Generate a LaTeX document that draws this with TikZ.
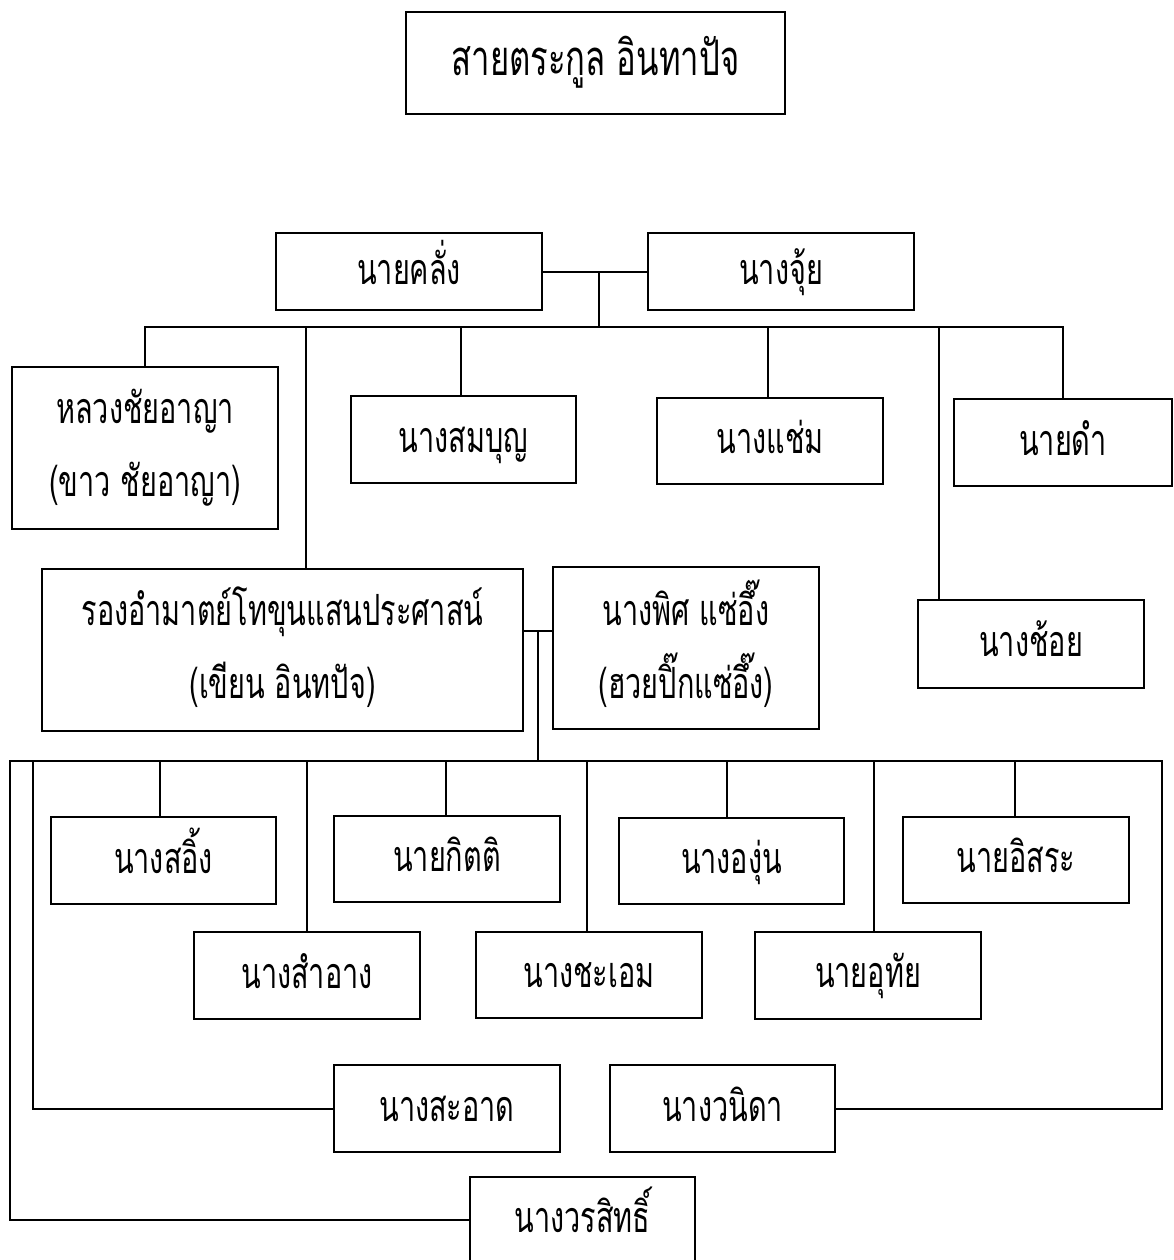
\documentclass[tikz,border=0pt]{standalone}
\usepackage{fontspec}
\newfontfamily\thai[Script=Thai,FakeStretch=0.67]{Loma}
\begin{document}
\begin{tikzpicture}[x=1pt,y=-1pt,
  boxa/.style={draw, line width=2pt, inner sep=0pt,
    font=\thai\fontsize{43}{73}\selectfont, text height=36pt, text depth=11pt},
  boxb/.style={draw, line width=2pt, inner sep=0pt, align=center,
    font=\thai\fontsize{43}{73}\selectfont},
  titlebox/.style={boxa, font=\thai\fontsize{49}{73}\selectfont, text height=38pt, text depth=12pt},
  ln/.style={line width=2pt}]
\useasboundingbox (0,0) rectangle (1173,1260);
\newcommand{\twolines}[2]{\rule{0pt}{41pt}#1\\#2\rule[-18pt]{0pt}{18pt}}

% nodes
\node[titlebox, minimum width=379pt, minimum height=102pt] (title) at (595.5,63) {สายตระกูล อินทาปัจ};
\node[boxa, minimum width=266pt, minimum height=77pt] (khlang) at (409,271.5) {นายคลั่ง};
\node[boxa, minimum width=266pt, minimum height=77pt] (chui) at (781,271.5) {นางจุ้ย};
\node[boxb, minimum width=266pt, minimum height=162pt] (luang) at (145,448) {\twolines{หลวงชัยอาญา}{(ขาว ชัยอาญา)}};
\node[boxa, minimum width=225pt, minimum height=87pt] (sombun) at (463.5,439.5) {นางสมบุญ};
\node[boxa, minimum width=226pt, minimum height=86pt] (chaem) at (770,441) {นางแช่ม};
\node[boxa, minimum width=218pt, minimum height=87pt] (dam) at (1063,442.5) {นายดำ};
\node[boxa, minimum width=226pt, minimum height=88pt] (choi) at (1031,644) {นางช้อย};
\node[boxb, minimum width=481pt, minimum height=162pt] (rong) at (282.5,650) {\twolines{รองอำมาตย์โทขุนแสนประศาสน์}{(เขียน อินทปัจ)}};
\node[boxb, minimum width=266pt, minimum height=162pt] (phit) at (686,648) {\twolines{นางพิศ แซ่อึ๊ง}{(ฮวยปิ๊กแซ่อึ๊ง)}};
\node[boxa, minimum width=225pt, minimum height=87pt] (soing) at (163.5,860.5) {นางสอิ้ง};
\node[boxa, minimum width=226pt, minimum height=86pt] (kitti) at (447,859) {นายกิตติ};
\node[boxa, minimum width=225pt, minimum height=86pt] (angun) at (731.5,861) {นางองุ่น};
\node[boxa, minimum width=226pt, minimum height=86pt] (itsara) at (1016,860) {นายอิสระ};
\node[boxa, minimum width=226pt, minimum height=87pt] (samang) at (307,975.5) {นางสำอาง};
\node[boxa, minimum width=226pt, minimum height=86pt] (chaoem) at (589,975) {นางชะเอม};
\node[boxa, minimum width=226pt, minimum height=87pt] (uthai) at (868,975) {นายอุทัย};
\node[boxa, minimum width=226pt, minimum height=87pt] (saat) at (447,1108.5) {นางสะอาด};
\node[boxa, minimum width=225pt, minimum height=87pt] (wanida) at (722.5,1108.5) {นางวนิดา};
\node[boxa, minimum width=225pt, minimum height=87pt] (worasit) at (582.5,1220) {นางวรสิทธิ์};

% first family
\coordinate (j1) at (khlang.east -| 599,0);
\coordinate (b1) at (599,327);
\draw[ln] (khlang.east) -- (chui.west);
\draw[ln] (j1) -- (b1);
\draw[ln] (luang.north) |- (b1) -| (dam.north);
\coordinate (d1) at (306,327);
\coordinate (d2) at (461,327);
\coordinate (d3) at (768,327);
\coordinate (d4) at (939,327);
\draw[ln] (d1) -- (d1 |- rong.north);
\draw[ln] (d2) -- (d2 |- sombun.north);
\draw[ln] (d3) -- (d3 |- chaem.north);
\draw[ln] (d4) -- (d4 |- choi.north);

% second family
\coordinate (c2l) at (rong.east |- 0,631);
\coordinate (c2r) at (phit.west |- 0,631);
\draw[ln] (c2l) -- (c2r);
\coordinate (j2) at (538,631);
\coordinate (b2) at (538,761);
\draw[ln] (j2) -- (b2);
\coordinate (bl) at (10,761);
\coordinate (br) at (1162,761);
\draw[ln] (worasit.west) -| (bl) -- (br) |- (wanida.east);
\coordinate (e0) at (33,761);
\draw[ln] (e0) |- (saat.west);
\coordinate (e1) at (160,761);
\coordinate (e2) at (307,761);
\coordinate (e3) at (446,761);
\coordinate (e4) at (587,761);
\coordinate (e5) at (727,761);
\coordinate (e6) at (874,761);
\coordinate (e7) at (1015,761);
\draw[ln] (e1) -- (e1 |- soing.north);
\draw[ln] (e2) -- (e2 |- samang.north);
\draw[ln] (e3) -- (e3 |- kitti.north);
\draw[ln] (e4) -- (e4 |- chaoem.north);
\draw[ln] (e5) -- (e5 |- angun.north);
\draw[ln] (e6) -- (e6 |- uthai.north);
\draw[ln] (e7) -- (e7 |- itsara.north);
\end{tikzpicture}
\end{document}
